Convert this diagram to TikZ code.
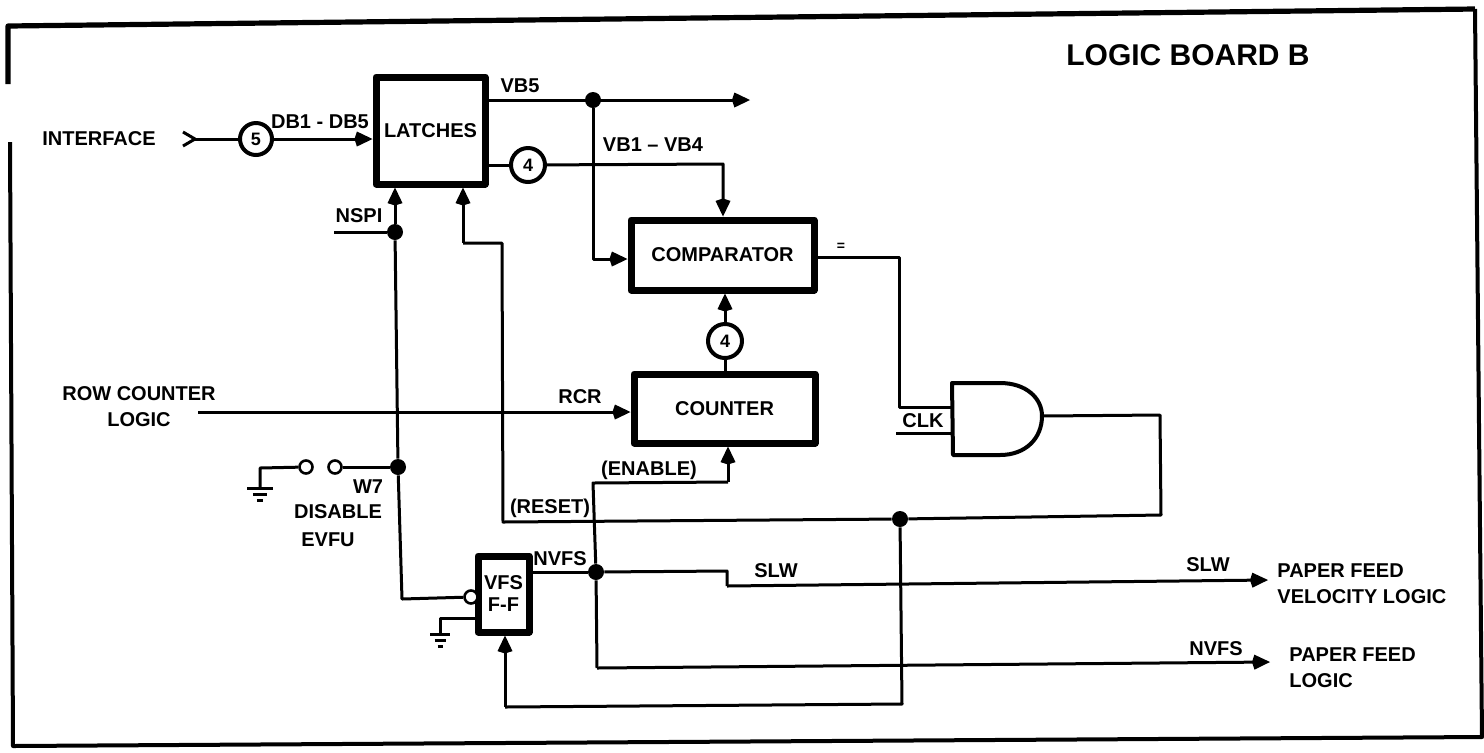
\documentclass[tikz,border=0pt]{standalone}
\usepackage{fontspec}
\setmainfont{Liberation Sans}
\usetikzlibrary{arrows.meta}
\newcommand{\gnd}[3]{%
  \draw[wire] (#1-#3,#2) -- (#1+#3,#2);
  \draw[wire] (#1-#3*0.55,#2+6) -- (#1+#3*0.55,#2+6);
  \draw[wire] (#1-#3*0.25,#2+12) -- (#1+#3*0.25,#2+12);}
\tikzset{
  wire/.style={line width=1.5pt},
  feed/.style={wire,-{Kite[length=9pt,width=7.5pt,inset=1.2pt]}},
  block/.style={draw,line width=3.5pt,inner sep=0pt,align=center,font=\fontsize{10}{12}\selectfont\bfseries},
  bubble/.style={circle,draw,fill=white,line width=2pt,inner sep=0pt,font=\fontsize{9}{10}\selectfont\bfseries},
  joint/.style={circle,fill,inner sep=0pt,minimum size=8pt},
  pin/.style={circle,draw,fill=white,line width=1.3pt,inner sep=0pt,minimum size=6.5pt},
  tag/.style={inner sep=0pt,align=center,font=\fontsize{10}{13}\selectfont\bfseries},
}
\begin{document}
\begin{tikzpicture}[x=0.5pt,y=-0.5pt,line join=round]
\useasboundingbox (0,0) rectangle (1484,752);
% ---------- outer frame with the gap on the left ----------
\draw[line width=2pt] (10,142) -- (13,746) -- (1482,737) -- (1475,9);
\draw[line width=2.6pt] (1475,9) -- (8,26) -- (8,84);
\node[tag,font=\fontsize{15}{17}\selectfont\bfseries] (title) at (1188,55) {LOGIC BOARD B};
% ---------- blocks ----------
\node[block,minimum width=54.5pt,minimum height=53.5pt] (latches) at (430.5,130.5) {LATCHES};
\node[block,minimum width=91.5pt,minimum height=35pt] (comparator) at (722.5,255) {COMPARATOR};
\node[block,minimum width=90.5pt,minimum height=34.5pt] (counter) at (724.5,408.5) {COUNTER};
\node[block,minimum width=25.5pt,minimum height=38pt] (vfsff) at (503.5,594) {VFS\\[-1pt]F-F};
\node[bubble,minimum size=16pt] (bubbleFive) at (256,139) {5};
\node[bubble,minimum size=17pt] (bubbleFourA) at (528,165) {4};
\node[bubble,minimum size=17pt] (bubbleFourB) at (725,341) {4};
% ---------- and gate ----------
\coordinate (gateIn) at (953,407);
\coordinate (gateClk) at (953,433);
\coordinate (gateOut) at (1042,416);
\draw[line width=2pt] (1000,383) -- (952,383) -- (953,455) -- (1000,455)
  .. controls (1026,455) and (1042,438) .. (gateOut)
  .. controls (1042,398) and (1026,383) .. (1000,383) -- cycle;
% ---------- joints ----------
\node[joint] (jointVB) at (593,100) {};
\node[joint] (jointNSPI) at (395,232) {};
\node[joint] (jointWseven) at (398,467) {};
\node[joint] (jointNVFS) at (596,572) {};
\node[joint] (jointReset) at (900,519) {};
\node[pin] (contactA) at (306,467) {};
\node[pin] (contactB) at (335,467) {};
\node[pin] (clrPin) at (471,597) {};
% ---------- interface side ----------
\node[tag] (interface) at (99,139) {INTERFACE};
\coordinate (ifaceTip) at (195,139);
\draw[wire] (183,132) -- (ifaceTip) -- (183,146);
\draw[wire] (ifaceTip) -- (bubbleFive);
\draw[feed] (bubbleFive) -- (latches.west |- bubbleFive);
\node[tag] (lblDB) at (320,122) {DB1 - DB5};
% ---------- latch outputs ----------
\coordinate (vbEnd) at (750,100);
\draw[feed] (latches.east |- vbEnd) -- (vbEnd);
\node[tag] (lblVBfive) at (520,86) {VB5};
\draw[wire] (latches.east |- bubbleFourA) -- (bubbleFourA);
\coordinate (vbCorner) at (723,164);
\draw[feed] (bubbleFourA) -- (vbCorner) -- (vbCorner |- comparator.north);
\node[tag] (lblVBfour) at (653,145) {VB1 -- VB4};
\draw[feed] (jointVB) |- (comparator.west |- 0,259);
% ---------- comparator and counter ----------
\draw[feed] (bubbleFourB) -- (bubbleFourB |- comparator.south);
\draw[wire] (counter.north -| bubbleFourB) -- (bubbleFourB);
\node[tag,font=\fontsize{7}{8}\selectfont\bfseries] (lblEq) at (841,247) {=};
\coordinate (eqCorner) at (899,257);
\draw[wire] (comparator.east |- eqCorner) -- (eqCorner) |- (gateIn);
\coordinate (clkStart) at (896,433);
\draw[wire] (clkStart) -- (gateClk);
\node[tag] (lblClk) at (923,421) {CLK};
\node[tag] (rowLogic) at (139,407) {ROW COUNTER\\LOGIC};
\coordinate (rcrStart) at (198,412);
\draw[feed] (rcrStart) -- (counter.west |- rcrStart);
\node[tag] (lblRCR) at (580,397) {RCR};
% ---------- reset loop ----------
\coordinate (gateCorner) at (1160,415);
\coordinate (loopCorner) at (1161,515);
\coordinate (resetCorner) at (503,522);
\coordinate (resetTop) at (502,243);
\coordinate (resetUp) at (463,243);
\draw[wire] (gateOut) -- (gateCorner) -- (loopCorner) -- (jointReset) -- (resetCorner) -- (resetTop) -- (resetUp);
\draw[feed] (resetUp) -- (resetUp |- latches.south);
\node[tag] (lblReset) at (550,508) {(RESET)};
% ---------- nspi line and jumper ----------
\coordinate (nspiStart) at (334,232);
\draw[wire] (nspiStart) -- (jointNSPI);
\node[tag] (lblNSPI) at (359,216) {NSPI};
\draw[feed] (jointNSPI) -- (jointNSPI |- latches.south);
\draw[wire] (jointNSPI) -- (jointWseven);
\draw[wire] (jointWseven) -- (contactB);
\coordinate (gndA) at (260,468);
\draw[wire] (contactA) -- (gndA) -- (260,488);
\gnd{260}{488}{13}
\node[tag] (lblWseven) at (368,487) {W7};
\node[tag] (lblDisable) at (338,512) {DISABLE};
\node[tag] (lblEVFU) at (328,540) {EVFU};
\coordinate (clrCorner) at (402,599);
\draw[wire] (jointWseven) -- (clrCorner) -- (clrPin);
\coordinate (gndB) at (440,618);
\draw[wire] (vfsff.west |- gndB) -- (gndB) -- (440,634);
\gnd{440}{634}{10}
% ---------- flip-flop outputs ----------
\draw[wire] (vfsff.east |- jointNVFS) -- (jointNVFS);
\node[tag] (lblNVFS) at (560,559) {NVFS};
\coordinate (enableCorner) at (593,483);
\coordinate (enableUp) at (728,482);
\draw[wire] (jointNVFS) -- (enableCorner) -- (enableUp);
\draw[feed] (enableUp) -- (enableUp |- counter.south);
\node[tag] (lblEnable) at (649,470) {(ENABLE)};
\coordinate (slwStep) at (727,571);
\coordinate (slwDown) at (727,586);
\coordinate (slwEnd) at (1268,580);
\draw[wire] (jointNVFS) -- (slwStep) -- (slwDown);
\draw[feed] (slwDown) -- (slwEnd);
\node[tag] (lblSLWa) at (776,571) {SLW};
\node[tag] (lblSLWb) at (1208,565) {SLW};
\coordinate (nvfsCorner) at (597,668);
\coordinate (nvfsEnd) at (1270,662);
\draw[wire] (jointNVFS) -- (nvfsCorner);
\draw[feed] (nvfsCorner) -- (nvfsEnd);
\node[tag] (lblNVFSb) at (1216,649) {NVFS};
\coordinate (loopBottom) at (902,704);
\coordinate (loopLeft) at (505,707);
\draw[wire] (jointReset) -- (loopBottom) -- (loopLeft);
\draw[feed] (loopLeft) -- (loopLeft |- vfsff.south);
% ---------- paper feed targets ----------
\node[tag,align=left,anchor=west] (velLogic) at (1277,584) {PAPER FEED\\VELOCITY LOGIC};
\node[tag,align=left,anchor=west] (feedLogic) at (1289,668) {PAPER FEED\\LOGIC};
\end{tikzpicture}
\end{document}
